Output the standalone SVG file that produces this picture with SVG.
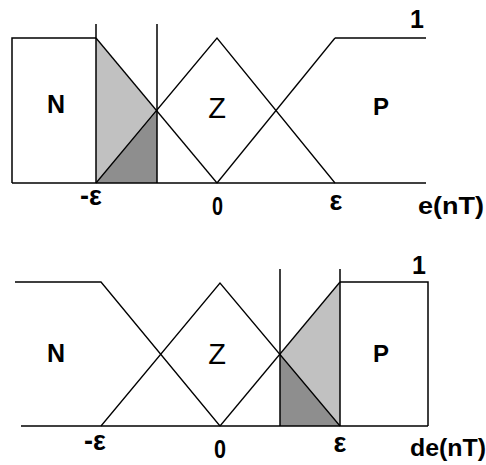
<svg xmlns="http://www.w3.org/2000/svg" width="486" height="465" viewBox="0 0 486 465">
<style>
.ln{fill:none;stroke:#000;stroke-width:1.5;stroke-linejoin:miter}
.sl{fill:none;stroke:#000;stroke-width:1.3}
.lt{fill:#c1c1c1;stroke:none}
.dk{fill:#8e8e8e;stroke:none}
.b{font-family:"Liberation Sans",Arial,sans-serif;font-weight:bold;fill:#000;text-anchor:middle}
.r{font-family:"Liberation Sans",Arial,sans-serif;fill:#000;text-anchor:middle}
</style>
<rect width="486" height="465" fill="#fff"/>
<g id="top-chart">
  <g id="top-shading">
    <polygon class="lt" points="96,38 157,111 96,183"/>
    <polygon class="dk" points="96,183 157,111 157,183"/>
  </g>
  <g id="top-N">
    <polyline class="ln" points="12,183 12,38 96,38"/>
    <line class="sl" x1="96" y1="38" x2="217" y2="183"/>
    <text class="b" x="56" y="113" font-size="25">N</text>
  </g>
  <g id="top-Z">
    <polyline class="sl" points="96,183 217,38 335,183"/>
    <text class="r" x="217" y="118" font-size="29">Z</text>
  </g>
  <g id="top-P">
    <line class="sl" x1="217" y1="183" x2="335" y2="38"/>
    <line class="ln" x1="335" y1="38" x2="426" y2="38"/>
    <text class="b" x="381" y="115" font-size="24">P</text>
  </g>
  <g id="top-axes">
    <line class="ln" x1="12" y1="183" x2="426" y2="183"/>
    <line class="ln" x1="96" y1="24" x2="96" y2="183"/>
    <line class="ln" x1="157" y1="24" x2="157" y2="183"/>
    <text class="b" x="417" y="28" font-size="25">1</text>
    <text class="b" x="91" y="205" font-size="27">-ε</text>
    <text class="b" x="217.5" y="215" font-size="25" textLength="11" lengthAdjust="spacingAndGlyphs">0</text>
    <text class="b" x="336" y="210" font-size="27">ε</text>
    <text class="b" x="451" y="214" font-size="24" textLength="66" lengthAdjust="spacingAndGlyphs">e(nT)</text>
  </g>
</g>
<g id="bottom-chart">
  <g id="bottom-shading">
    <polygon class="lt" points="280,354 340,282 340,426"/>
    <polygon class="dk" points="280,354 280,426 340,426"/>
  </g>
  <g id="bottom-N">
    <polyline class="sl" points="15,282 101,282 220,426"/>
    <text class="b" x="56" y="362" font-size="25">N</text>
  </g>
  <g id="bottom-Z">
    <polyline class="sl" points="101,426 220,283 340,426"/>
    <text class="r" x="217" y="364" font-size="29">Z</text>
  </g>
  <g id="bottom-P">
    <line class="sl" x1="220" y1="426" x2="340" y2="282"/>
    <polyline class="ln" points="340,282 428,282 428,426"/>
    <text class="b" x="381" y="362" font-size="24">P</text>
  </g>
  <g id="bottom-axes">
    <line class="ln" x1="21" y1="426" x2="428" y2="426"/>
    <line class="ln" x1="280" y1="269" x2="280" y2="426"/>
    <line class="ln" x1="340" y1="269" x2="340" y2="426"/>
    <text class="b" x="419" y="274" font-size="25">1</text>
    <text class="b" x="95" y="450" font-size="27">-ε</text>
    <text class="b" x="220" y="458" font-size="25" textLength="12" lengthAdjust="spacingAndGlyphs">0</text>
    <text class="b" x="340" y="452" font-size="27">ε</text>
    <text class="b" x="448" y="456" font-size="24" textLength="76" lengthAdjust="spacingAndGlyphs">de(nT)</text>
  </g>
</g>
</svg>
